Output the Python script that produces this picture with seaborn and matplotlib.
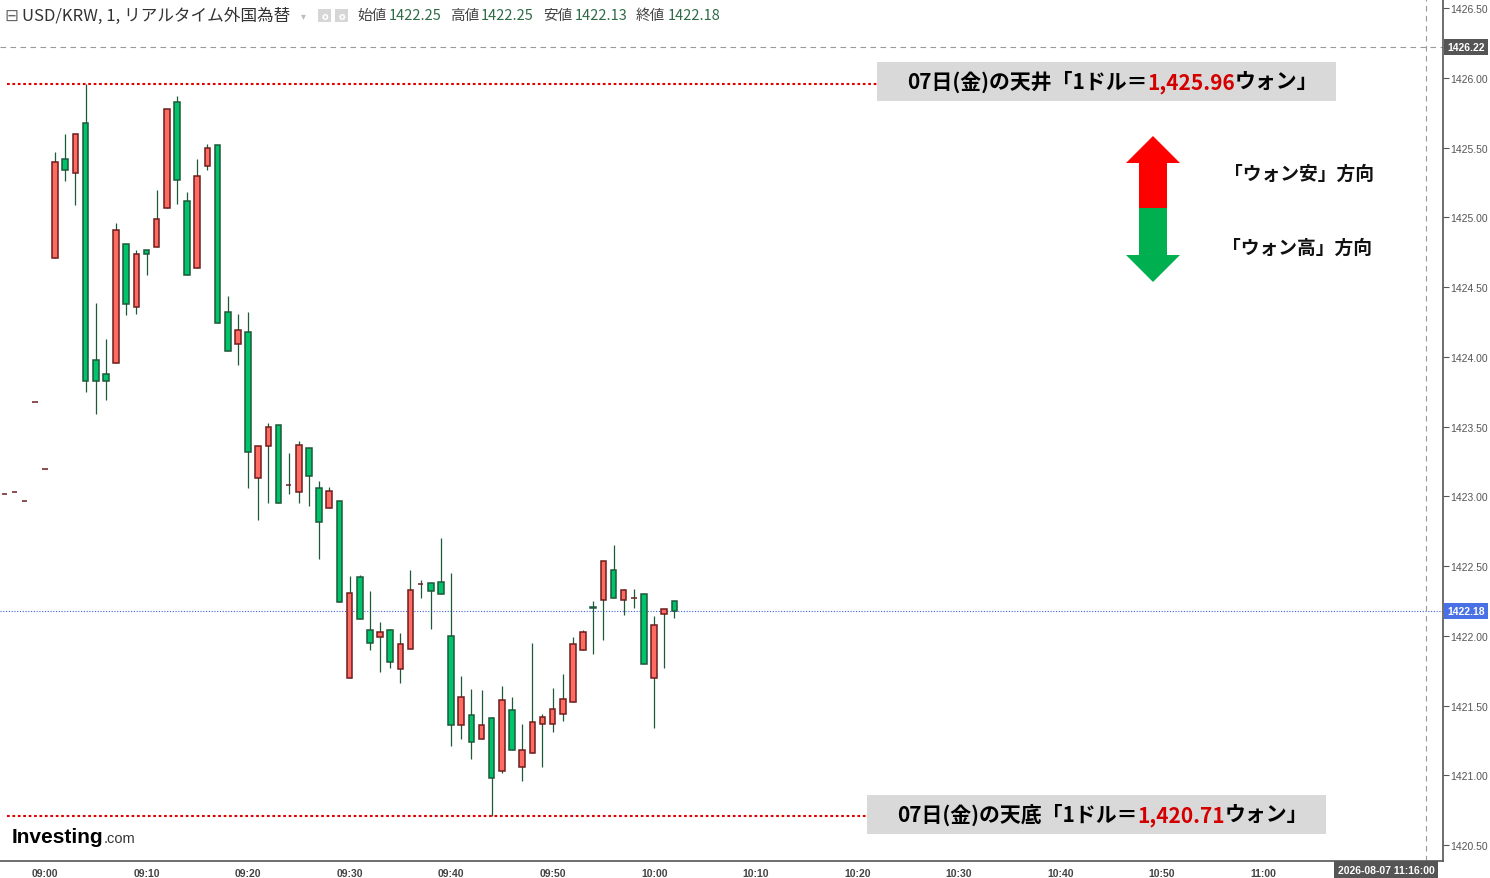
import numpy as np
import pandas as pd
import matplotlib
matplotlib.use("Agg")
import matplotlib.pyplot as plt
import matplotlib.dates as mdates
import matplotlib.transforms as mtransforms
from matplotlib.patches import Rectangle, Polygon
from matplotlib.offsetbox import TextArea, HPacker, AnnotationBbox
import seaborn as sns

# USD/KRW 1-minute candles, 08:56 - 10:02
start_time = "2026-08-07 08:56"
opens = [1423.02, 1423.03, 1422.97, 1423.68, 1423.20,
         1424.71, 1425.42, 1425.32, 1425.68, 1423.98, 1423.88, 1423.96, 1424.81, 1424.36, 1424.77,
         1424.79, 1425.07, 1425.83, 1425.12, 1424.64, 1425.37, 1425.52, 1424.32, 1424.09, 1424.18,
         1423.13, 1423.36, 1423.51, 1423.08, 1423.03, 1423.35, 1423.06, 1422.92, 1422.97, 1421.70,
         1422.42, 1422.04, 1421.99, 1422.04, 1421.76, 1421.91, 1422.37, 1422.38, 1422.39, 1422.00,
         1421.36, 1421.43, 1421.26, 1421.41, 1421.03, 1421.47, 1421.06, 1421.16, 1421.37, 1421.37,
         1421.44, 1421.53, 1421.90, 1422.21, 1422.26, 1422.47, 1422.26, 1422.27, 1422.30, 1421.70,
         1422.16, 1422.25]
highs = [1423.02, 1423.03, 1422.97, 1423.68, 1423.20,
         1425.47, 1425.60, 1425.60, 1425.96, 1424.39, 1424.13, 1424.96, 1424.81, 1424.77, 1424.77,
         1425.20, 1425.78, 1425.87, 1425.18, 1425.42, 1425.53, 1425.52, 1424.44, 1424.31, 1424.32,
         1423.36, 1423.53, 1423.51, 1423.31, 1423.40, 1423.35, 1423.11, 1423.07, 1422.97, 1422.43,
         1422.44, 1422.32, 1422.10, 1422.05, 1422.02, 1422.47, 1422.40, 1422.38, 1422.70, 1422.45,
         1421.71, 1421.62, 1421.61, 1421.42, 1421.64, 1421.56, 1421.37, 1421.95, 1421.44, 1421.63,
         1421.73, 1421.99, 1422.04, 1422.25, 1422.54, 1422.65, 1422.34, 1422.34, 1422.30, 1422.14,
         1422.19, 1422.25]
lows = [1423.02, 1423.03, 1422.97, 1423.68, 1423.20,
        1424.71, 1425.26, 1425.09, 1423.75, 1423.59, 1423.69, 1423.96, 1424.30, 1424.31, 1424.59,
        1424.79, 1425.07, 1425.10, 1424.59, 1424.64, 1425.34, 1424.24, 1424.04, 1423.94, 1423.06,
        1422.83, 1422.95, 1422.95, 1423.02, 1422.95, 1422.93, 1422.55, 1422.92, 1422.24, 1421.70,
        1422.12, 1421.90, 1421.74, 1421.77, 1421.66, 1421.91, 1422.27, 1422.05, 1422.30, 1421.21,
        1421.26, 1421.12, 1421.26, 1420.71, 1421.02, 1421.18, 1420.96, 1421.16, 1421.06, 1421.31,
        1421.39, 1421.53, 1421.90, 1421.87, 1421.97, 1422.27, 1422.15, 1422.20, 1421.80, 1421.34,
        1421.77, 1422.13]
closes = [1423.02, 1423.03, 1422.97, 1423.68, 1423.20,
          1425.40, 1425.34, 1425.60, 1423.83, 1423.83, 1423.83, 1424.91, 1424.38, 1424.74, 1424.74,
          1424.99, 1425.78, 1425.27, 1424.59, 1425.30, 1425.50, 1424.24, 1424.04, 1424.19, 1423.32,
          1423.36, 1423.50, 1422.95, 1423.08, 1423.37, 1423.15, 1422.82, 1423.04, 1422.24, 1422.31,
          1422.12, 1421.95, 1422.03, 1421.81, 1421.94, 1422.33, 1422.37, 1422.32, 1422.30, 1421.36,
          1421.56, 1421.24, 1421.36, 1420.98, 1421.54, 1421.18, 1421.18, 1421.38, 1421.42, 1421.48,
          1421.55, 1421.94, 1422.03, 1422.20, 1422.54, 1422.27, 1422.33, 1422.27, 1421.80, 1422.08,
          1422.19, 1422.18]

price_ticks = [1420.5, 1421.0, 1421.5, 1422.0, 1422.5, 1423.0, 1423.5,
               1424.0, 1424.5, 1425.0, 1425.5, 1426.0, 1426.5]
top_price = 1425.96
bottom_price = 1420.71
last_price = 1422.18
cross_price = 1426.22
cross_time = "2026-08-07 11:16"
cross_label = "2026-08-07 11:16:00"
header_title = "USD/KRW, 1, リアルタイム外国為替"
header_names = ["始値", "高値", "安値", "終値"]
header_values = ["1422.25", "1422.25", "1422.13", "1422.18"]
top_text = ["07日(金)の天井「1ドル＝", "1,425.96", "ウォン」"]
bottom_text = ["07日(金)の天底「1ドル＝", "1,420.71", "ウォン」"]
up_text = "「ウォン安」方向"
down_text = "「ウォン高」方向"

W, H = 1490, 879
UP_FILL, UP_EDGE = "#ff6a61", "#6e1e1e"
DN_FILL, DN_EDGE = "#00c46c", "#1d5a3a"
WICK = "#1d5a3a"

sns.set_theme(style="white")
plt.rcParams["font.family"] = ["Noto Sans CJK JP", "DejaVu Sans"]

df = pd.DataFrame({
    "time": pd.date_range(start_time, periods=len(opens), freq="min"),
    "open": opens, "high": highs, "low": lows, "close": closes,
})
df["x"] = mdates.date2num(df["time"])
df["up"] = df["close"] >= df["open"]


def fx(x):
    return x / W


def fy(y):
    return 1 - y / H


fig = plt.figure(figsize=(W / 100, H / 100), dpi=100)
fig.patch.set_facecolor("white")
ax = fig.add_axes([0, 17 / H, 1443 / W, 862 / H])
ax.set_facecolor("white")

minute = 1 / 1440
t0 = mdates.date2num(pd.Timestamp("2026-08-07 09:00"))
ax.set_xlim(t0 - 4.43 * minute, t0 + 137.7 * minute)
ax.set_ylim(1420.387, 1426.566)

# wicks
ax.vlines(df["x"], df["low"], df["high"], color=WICK, lw=0.9, zorder=2)
# bodies
body_w = 0.55 * minute
for up, fill, edge in [(True, UP_FILL, UP_EDGE), (False, DN_FILL, DN_EDGE)]:
    d = df[df["up"] == up]
    ax.bar(d["x"], (d["close"] - d["open"]).abs(), bottom=d[["open", "close"]].min(axis=1),
           width=body_w, color=fill, edgecolor=edge, linewidth=1.1, zorder=3)

# high / low reference lines
ax.axhline(top_price, xmin=7 / 1443, xmax=880 / 1443, color="#e00000", lw=1.5,
           ls=(0, (1.3, 1.3)), zorder=1)
ax.axhline(bottom_price, xmin=7 / 1443, xmax=870 / 1443, color="#e00000", lw=1.5,
           ls=(0, (1.3, 1.3)), zorder=1)
# last price line and crosshair
ax.axhline(last_price, color="#3d62d8", lw=0.8, ls=(0, (1, 1.5)), zorder=1)
ax.axhline(cross_price, color="#999999", lw=0.8, ls=(0, (5, 4)), zorder=1)
ax.axvline(mdates.date2num(pd.Timestamp(cross_time)), color="#999999", lw=0.8,
           ls=(0, (5, 4)), zorder=1)

# axes styling
for s in ["left", "top"]:
    ax.spines[s].set_visible(False)
for s in ["right", "bottom"]:
    ax.spines[s].set_color("#555555")
    ax.spines[s].set_linewidth(1.2)
ax.yaxis.tick_right()
ax.set_yticks(price_ticks)
ax.yaxis.set_major_formatter(plt.FormatStrFormatter("%.2f"))
ax.tick_params(axis="y", direction="out", length=4, width=0.8, color="#555555",
               labelsize=7.5, labelcolor="#555555", pad=1.5)
ax.set_xticks(mdates.date2num(pd.date_range("2026-08-07 09:00", "2026-08-07 11:00", freq="10min")))
ax.xaxis.set_major_formatter(mdates.DateFormatter("%H:%M"))
ax.tick_params(axis="x", direction="out", length=3, width=0.8, color="#555555",
               labelsize=7.5, labelcolor="#444444", pad=2)
for lab in ax.get_xticklabels() + ax.get_yticklabels():
    lab.set_family(["Liberation Sans", "DejaVu Sans"])
for lab in ax.get_xticklabels():
    lab.set_fontweight("bold")

# price tags on the right axis
tag_tr = mtransforms.blended_transform_factory(fig.transFigure, ax.transData)
for price, bg in [(cross_price, "#555555"), (last_price, "#4a70e6")]:
    ax.text(fx(1447), price, f"{price:.2f}", transform=tag_tr, ha="left", va="center",
            fontsize=7.5, fontweight="bold", color="white", family=["Liberation Sans"],
            bbox=dict(boxstyle="square,pad=0.3", fc=bg, ec="none"), clip_on=False, zorder=5)
fig.text(fx(1386), fy(871), cross_label, ha="center", va="center", fontsize=7.5,
         fontweight="bold", color="white", family=["Liberation Sans"],
         bbox=dict(boxstyle="square,pad=0.35", fc="#555555", ec="none"))

# header
hy = fy(16)
fig.text(fx(4), hy, "⊟", fontsize=12, color="#666666", va="center", family=["DejaVu Sans"])
fig.text(fx(22), hy, header_title, fontsize=12, color="#333333", va="center")
fig.text(fx(301), hy, "▾", fontsize=7, color="#bbbbbb", va="center", family=["DejaVu Sans"])
for x0 in [318, 335]:
    fig.add_artist(Rectangle((fx(x0), fy(23)), 13 / W, 13 / H, transform=fig.transFigure,
                             fc="#d6d6d6", ec="none"))
    fig.text(fx(x0 + 6.5), fy(16.5), "o", fontsize=7, color="white", ha="center", va="center",
             family=["DejaVu Sans"], fontweight="bold")
for name, val, xn, xv in zip(header_names, header_values, [357, 450, 543, 636], [389, 481, 575, 668]):
    fig.text(fx(xn), hy, name, fontsize=10.5, color="#444444", va="center")
    fig.text(fx(xv), hy, val, fontsize=10.5, color="#2e6b45", va="center")


def boxed_label(parts, box):
    x0, y0, x1, y1 = box
    fig.add_artist(Rectangle((fx(x0), fy(y1)), (x1 - x0) / W, (y1 - y0) / H,
                             transform=fig.transFigure, fc="#d9d9d9", ec="none", zorder=3))
    cols = ["black", "#d40000", "black"]
    areas = [TextArea(s, textprops=dict(color=c, fontsize=15, fontweight="bold"))
             for s, c in zip(parts, cols)]
    pack = HPacker(children=areas, pad=0, sep=0, align="baseline")
    ab = AnnotationBbox(pack, ((x0 + x1) / 2 + 6, H - (y0 + y1) / 2), xycoords="figure pixels",
                        frameon=False, box_alignment=(0.5, 0.5), zorder=4)
    fig.add_artist(ab)


boxed_label(top_text, (877, 63, 1336, 102))
boxed_label(bottom_text, (867, 796, 1326, 835))

# direction arrow
red_pts = [(1126, 164), (1153, 137), (1180, 164), (1167, 164), (1167, 209), (1139, 209), (1139, 164)]
grn_pts = [(1139, 209), (1167, 209), (1167, 256), (1180, 256), (1153, 283), (1126, 256), (1139, 256)]
for pts, col in [(red_pts, "#ff0000"), (grn_pts, "#00b050")]:
    fig.add_artist(Polygon([(fx(a), fy(b)) for a, b in pts], closed=True,
                           transform=fig.transFigure, fc=col, ec="none"))
fig.text(fx(1224), fy(174), up_text, fontsize=13.5, fontweight="bold", color="#111111", va="center")
fig.text(fx(1222), fy(248), down_text, fontsize=13.5, fontweight="bold", color="#111111", va="center")

# logo
logo = HPacker(children=[
    TextArea("Investing", textprops=dict(fontsize=15, fontweight="bold", color="black",
                                         family=["Liberation Sans"])),
    TextArea(".com", textprops=dict(fontsize=10.5, color="#333333", family=["Liberation Sans"])),
], pad=0, sep=0, align="baseline")
fig.add_artist(AnnotationBbox(logo, (12, H - 838), xycoords="figure pixels", frameon=False,
                              box_alignment=(0, 0.5)))

fig.savefig("out.png", dpi=100)
